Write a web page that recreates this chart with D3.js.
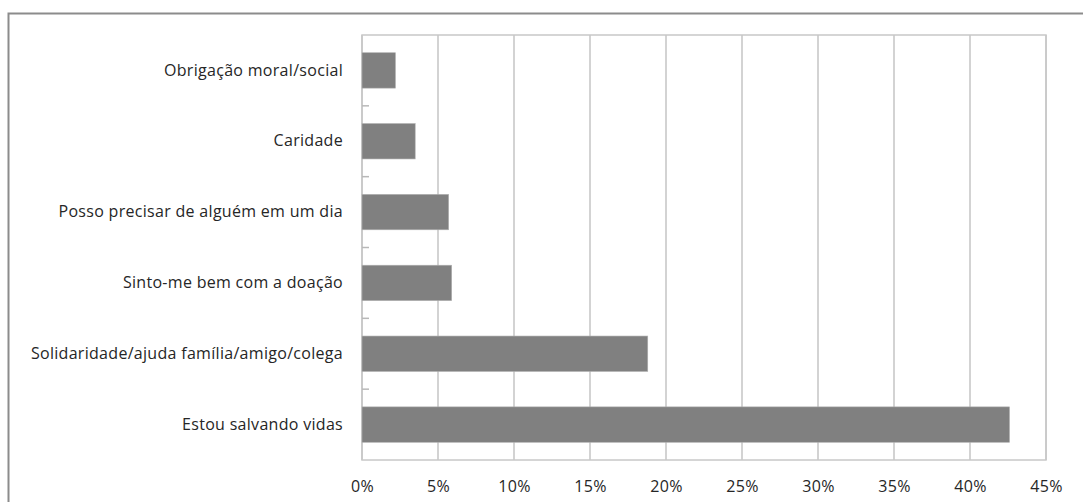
<!DOCTYPE html>
<html>
<head>
<meta charset="utf-8">
<script src="https://cdn.jsdelivr.net/npm/d3@7"></script>
<style>
    body { margin: 0; background: #fff; }
    svg text { font-family: "Open Sans", Lato, sans-serif; fill: #262626; }
</style>
</head>
<body>
<svg id="chart" width="1083" height="502"></svg>
<script>
// Reasons for donating (share of answers, %)
const categories = [
    'Obrigação moral/social',
    'Caridade',
    'Posso precisar de alguém em um dia',
    'Sinto-me bem com a doação',
    'Solidaridade/ajuda família/amigo/colega',
    'Estou salvando vidas'
];
const values = [2.2, 3.5, 5.7, 5.9, 18.8, 42.6];
const xTicks = [0, 5, 10, 15, 20, 25, 30, 35, 40, 45];

const margin = { top: 35, right: 37, bottom: 42, left: 362 },
    width = 1083 - margin.left - margin.right,
    height = 502 - margin.top - margin.bottom;

const svg = d3.select('#chart');

// Outer chart frame (only top and left visible in the crop)
svg.append('path')
    .attr('d', 'M8.5,502V13.5H1083')
    .attr('fill', 'none')
    .attr('stroke', '#8c8c8c')
    .attr('stroke-width', 2);

const g = svg.append('g').attr('transform', 'translate(' + margin.left + ',' + margin.top + ')');

const x = d3.scaleLinear().domain([0, 45]).range([0, width]);
const y = d3.scaleBand().domain(categories).range([0, height])
    .paddingInner(0.5).paddingOuter(0.25);

// Vertical gridlines
g.append('g').attr('class', 'grid')
    .selectAll('line').data(xTicks).join('line')
        .attr('x1', d => x(d)).attr('x2', d => x(d))
        .attr('y1', 0).attr('y2', height)
        .attr('stroke', '#c4c4c4')
        .attr('stroke-width', 1.5);

// Plot area border
g.append('rect')
    .attr('width', width).attr('height', height)
    .attr('fill', 'none')
    .attr('stroke', '#c8c8c8')
    .attr('stroke-width', 1.5);

// Category separators on the value axis
const step = y.step();
g.append('g')
    .selectAll('line').data(d3.range(1, categories.length)).join('line')
        .attr('x1', 0).attr('x2', 7)
        .attr('y1', d => d * step).attr('y2', d => d * step)
        .attr('stroke', '#b8b8b8')
        .attr('stroke-width', 1.5);

// Bars
g.append('g')
    .selectAll('rect').data(values).join('rect')
        .attr('x', 0)
        .attr('y', (d, i) => y(categories[i]))
        .attr('width', d => x(d))
        .attr('height', y.bandwidth())
        .attr('fill', '#808080')
        .attr('stroke', '#b0b0b0')
        .attr('stroke-width', 0.6);

// Axes (labels only)
const xAxis = g.append('g')
    .attr('transform', 'translate(0,' + height + ')')
    .call(d3.axisBottom(x).tickValues(xTicks).tickSize(0).tickPadding(21).tickFormat(d => d + '%'));
xAxis.select('.domain').remove();
xAxis.selectAll('text').style('font-size', '16px').style('letter-spacing', '0.3px');

const yAxis = g.append('g')
    .call(d3.axisLeft(y).tickSize(0).tickPadding(19));
yAxis.select('.domain').remove();
yAxis.selectAll('text').style('font-size', '16px').style('letter-spacing', '0.3px');
</script>
</body>
</html>
